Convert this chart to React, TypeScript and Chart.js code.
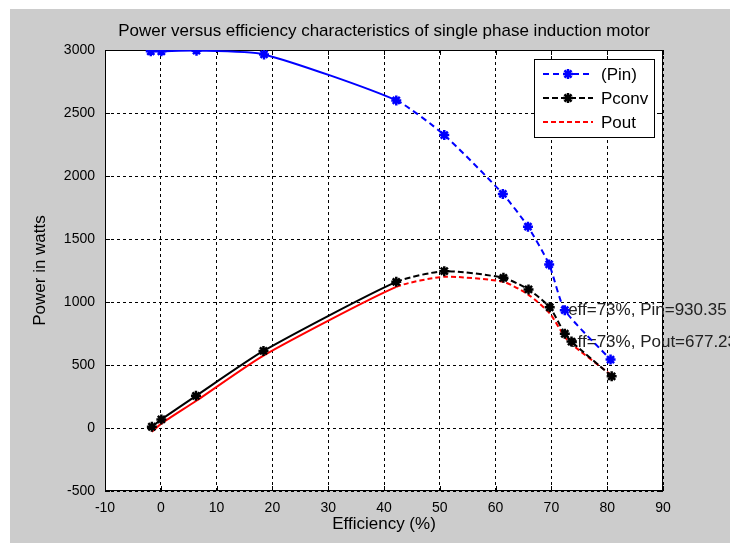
import React, { useEffect, useRef } from "react";
import { Chart, registerables } from "chart.js";

Chart.register(...registerables);

const titleText = "Power versus efficiency characteristics of single phase induction motor";
const xAxisTitle = "Efficiency (%)";
const yAxisTitle = "Power in watts";

const xMin = -10;
const xMax = 90;
const xStep = 10;
const yMin = -500;
const yMax = 3000;
const yStep = 500;

const seriesLabels = ["(Pin)", "Pconv", "Pout"];

const effPin = [-1.8, 0.1, 6.4, 18.5, 42.2, 50.8, 61.3, 65.8, 69.6, 72.4, 80.6];
const pinValues = [2990, 2990, 2995, 2965, 2600, 2325, 1858, 1598, 1298, 935, 543];

const effPconv = [-1.6, 0.1, 6.3, 18.4, 42.2, 50.8, 61.4, 65.9, 69.7, 72.4, 73.6, 80.8];
const pconvValues = [10, 68, 255, 612, 1160, 1245, 1192, 1100, 958, 748, 686, 410];

const effPout = [-1.6, 0.1, 6.3, 18.4, 42.2, 50.8, 61.4, 65.9, 69.7, 72.4, 73.6, 80.6];
const poutValues = [-30, 35, 214, 575, 1120, 1200, 1160, 1057, 910, 722, 665, 425];

const annotationEff = [73, 73];
const annotationPower = [930.35, 677.23];
const annotationLabels = ["eff=73%, Pin=930.35", "eff=73%, Pout=677.23"];

const FONT = 'Arial, "Liberation Sans", Helvetica, sans-serif';
const TEXT_SIZE = 17;
const TICK_SIZE = 14;

const matlabPlugin = {
  id: "matlabLook",
  beforeDraw(chart: any) {
    const { ctx, chartArea: a, width, height } = chart;
    ctx.save();
    ctx.fillStyle = "#ffffff";
    ctx.fillRect(0, 0, width, height);
    ctx.fillStyle = "#cccccc";
    ctx.fillRect(10, 9, width - 10, height - 9);
    ctx.fillStyle = "#ffffff";
    ctx.fillRect(a.left, a.top, a.right - a.left, a.bottom - a.top);
    ctx.restore();
  },
  beforeDatasetsDraw(chart: any) {
    const { ctx, chartArea: a, scales } = chart;
    ctx.save();
    ctx.strokeStyle = "#000";
    ctx.lineWidth = 1;
    ctx.setLineDash([]);
    ctx.strokeRect(a.left + 0.5, a.top + 0.5, a.right - a.left - 1, a.bottom - a.top - 1);
    const tl = 5;
    ctx.beginPath();
    scales.x.ticks.forEach((t: any) => {
      const px = Math.round(scales.x.getPixelForValue(t.value)) + 0.5;
      ctx.moveTo(px, a.bottom);
      ctx.lineTo(px, a.bottom - tl);
      ctx.moveTo(px, a.top);
      ctx.lineTo(px, a.top + tl);
    });
    scales.y.ticks.forEach((t: any) => {
      const py = Math.round(scales.y.getPixelForValue(t.value)) + 0.5;
      ctx.moveTo(a.left, py);
      ctx.lineTo(a.left + tl, py);
      ctx.moveTo(a.right, py);
      ctx.lineTo(a.right - tl, py);
    });
    ctx.stroke();

    // Annotations (beneath the lines)
    ctx.fillStyle = "#222";
    ctx.font = `${TEXT_SIZE}px ${FONT}`;
    ctx.textAlign = "left";
    ctx.textBaseline = "middle";
    annotationLabels.forEach((txt, i) => {
      const px = scales.x.getPixelForValue(annotationEff[i]);
      const py = scales.y.getPixelForValue(annotationPower[i]);
      ctx.fillText(txt, px, py);
    });
    ctx.restore();
  },
  afterDraw(chart: any) {
    const { ctx, chartArea: a } = chart;
    ctx.save();
    ctx.fillStyle = "#000";
    ctx.font = `${TEXT_SIZE}px ${FONT}`;
    ctx.textAlign = "center";
    ctx.textBaseline = "middle";
    ctx.fillText(titleText, (a.left + a.right) / 2, 31);
    ctx.fillText(xAxisTitle, (a.left + a.right) / 2, 524);
    ctx.save();
    ctx.translate(40, (a.top + a.bottom) / 2);
    ctx.rotate(-Math.PI / 2);
    ctx.fillText(yAxisTitle, 0, 0);
    ctx.restore();

    // Legend
    const bw = 120;
    const bh = 78;
    const bx = a.right - 9 - bw;
    const by = a.top + 9;
    ctx.fillStyle = "#fff";
    ctx.fillRect(bx, by, bw, bh);
    ctx.strokeStyle = "#000";
    ctx.lineWidth = 1;
    ctx.setLineDash([]);
    ctx.strokeRect(bx + 0.5, by + 0.5, bw, bh);
    chart.data.datasets.forEach((ds: any, i: number) => {
      const ry = by + 15 + i * 24;
      const x0 = bx + 9;
      const x1 = bx + 59;
      ctx.save();
      ctx.strokeStyle = ds.borderColor;
      ctx.lineWidth = 2;
      ctx.setLineDash(ds.legendDash);
      ctx.beginPath();
      ctx.moveTo(x0, ry);
      ctx.lineTo(x1, ry);
      ctx.stroke();
      ctx.restore();
      if (ds.pointRadius > 0) {
        ctx.save();
        ctx.setLineDash([]);
        drawStar(ctx, (x0 + x1) / 2, ry, ds.pointRadius, ds.borderColor, ds.pointBorderWidth);
        ctx.restore();
      }
      ctx.fillStyle = "#000";
      ctx.font = `${TEXT_SIZE}px ${FONT}`;
      ctx.textAlign = "left";
      ctx.textBaseline = "middle";
      ctx.fillText(ds.label, bx + 67, ry + 1);
    });
    ctx.restore();
  },
};

function drawStar(ctx: CanvasRenderingContext2D, x: number, y: number, r: number, color: string, w: number) {
  ctx.strokeStyle = color;
  ctx.lineWidth = w;
  ctx.beginPath();
  for (let k = 0; k < 4; k++) {
    const ang = (k * Math.PI) / 4;
    ctx.moveTo(x - Math.cos(ang) * r, y - Math.sin(ang) * r);
    ctx.lineTo(x + Math.cos(ang) * r, y + Math.sin(ang) * r);
  }
  ctx.stroke();
}

function makeSeries(label: string, xs: number[], ys: number[], color: string, dash: number[], marker: boolean) {
  return {
    label,
    data: xs.map((x, i) => ({ x, y: ys[i] })),
    borderColor: color,
    backgroundColor: color,
    borderWidth: 2,
    pointStyle: "star",
    pointRadius: marker ? 5 : 0,
    pointHoverRadius: marker ? 5 : 0,
    pointBorderWidth: 2.5,
    pointBorderColor: color,
    pointBackgroundColor: color,
    tension: 0.2,
    fill: false,
    legendDash: dash,
    segment: {
      borderDash: (c: any) => (c.p1.parsed.x > 43 ? dash : []),
    },
  };
}

export default function App() {
  const ref = useRef<HTMLCanvasElement | null>(null);
  useEffect(() => {
    if (!ref.current) return;
    const chart = new Chart(ref.current, {
      type: "line",
      data: {
        datasets: [
          makeSeries(seriesLabels[0], effPin, pinValues, "#0000ff", [6, 4], true),
          makeSeries(seriesLabels[1], effPconv, pconvValues, "#000000", [6, 3], true),
          makeSeries(seriesLabels[2], effPout, poutValues, "#ff0000", [5, 3], false),
        ] as any,
      },
      options: {
        responsive: false,
        animation: false,
        devicePixelRatio: 1,
        layout: { padding: { top: 50, right: 67, left: 0, bottom: 0 } },
        plugins: {
          legend: { display: false },
          title: { display: false },
          tooltip: { enabled: false },
        },
        scales: {
          x: {
            type: "linear",
            min: xMin,
            max: xMax,
            ticks: {
              stepSize: xStep,
              color: "#000",
              font: { family: FONT, size: TICK_SIZE },
              padding: 9,
              maxRotation: 0,
              callback: (v: any) => String(v),
            },
            grid: { color: "#000", lineWidth: 1, drawTicks: false },
            border: { display: false, dash: [3, 3] },
            afterFit: (s: any) => {
              s.height = 52;
            },
          },
          y: {
            type: "linear",
            min: yMin,
            max: yMax,
            ticks: {
              stepSize: yStep,
              color: "#000",
              font: { family: FONT, size: TICK_SIZE },
              padding: 10,
              callback: (v: any) => String(v),
            },
            grid: { color: "#000", lineWidth: 1, drawTicks: false },
            border: { display: false, dash: [3, 3] },
            afterFit: (s: any) => {
              s.width = 105;
            },
          },
        },
      } as any,
      plugins: [matlabPlugin],
    });
    return () => chart.destroy();
  }, []);
  return (
    <div style={{ position: "fixed", left: 0, top: 0, width: 730, height: 543, background: "#fff" }}>
      <canvas ref={ref} width={730} height={543} style={{ display: "block", width: 730, height: 543 }} />
    </div>
  );
}
